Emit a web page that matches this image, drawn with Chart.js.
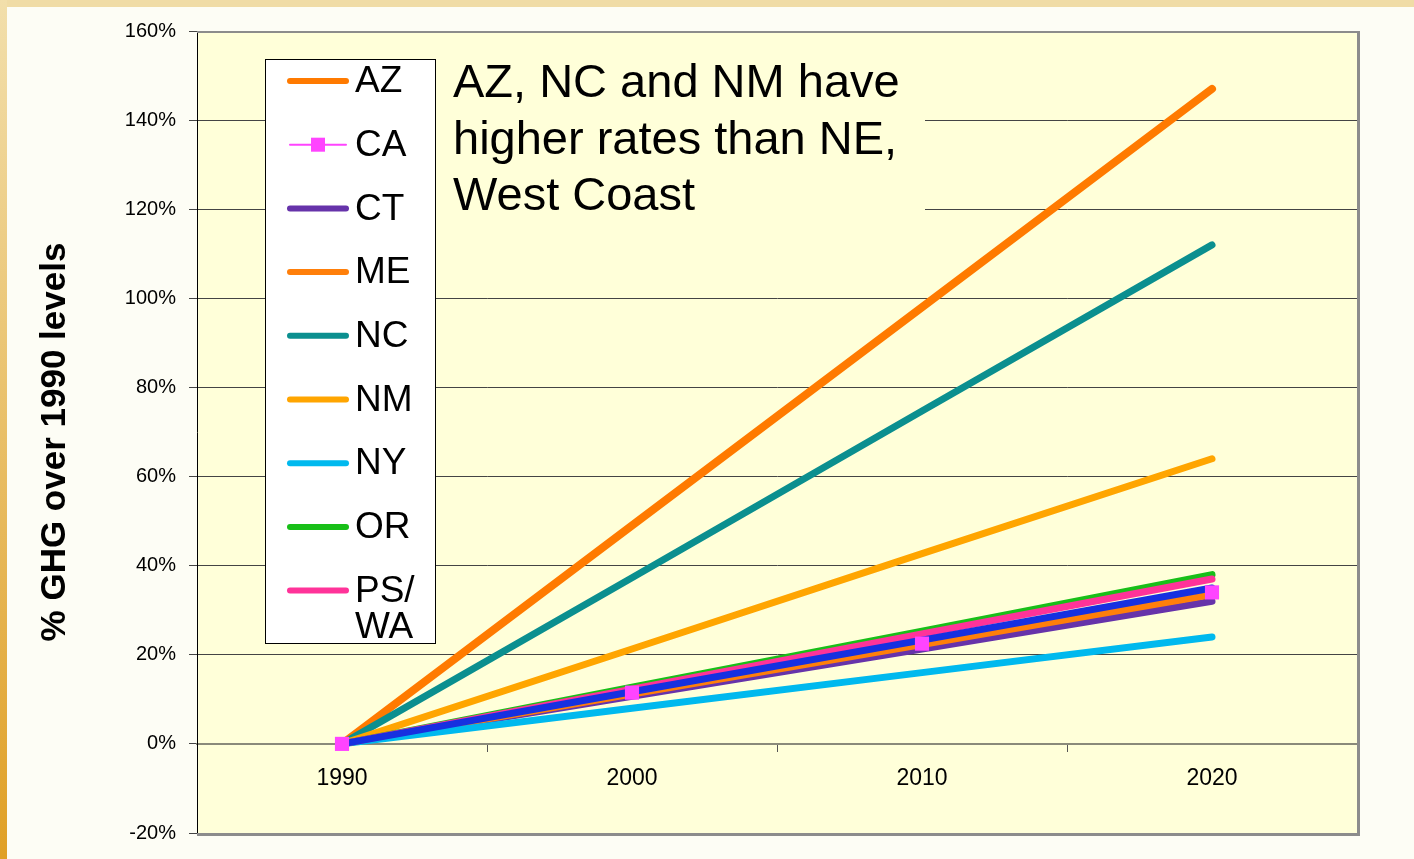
<!DOCTYPE html>
<html>
<head>
<meta charset="utf-8">
<script src="https://cdn.jsdelivr.net/npm/chart.js@4.4.1/dist/chart.umd.min.js"></script>
<style>
  html, body { margin: 0; padding: 0; background: #fdfdf5; }
  canvas { display: block; }
</style>
</head>
<body>
<canvas id="ghgChart" width="1414" height="859"></canvas>
<script>
// data (% GHG over 1990 levels)
const years = ['1990', '2000', '2010', '2020'];
const azValues = [0, 49, 98, 147];
const caValues = [0, 11.5, 22.5, 34];
const ctValues = [0, 10.7, 21.3, 32];
const meValues = [0, 11.2, 22.3, 33.5];
const ncValues = [0, 37.3, 74.7, 112];
const nmValues = [0, 21.3, 42.7, 64];
const nyValues = [0, 8, 16, 24];
const orValues = [0, 12.7, 25.3, 38];
const waValues = [0, 12.3, 24.7, 37];
const otherValues = [0, 11.7, 23.3, 35];   // blue series, its legend entry is cut off
const yTicks = [-20, 0, 20, 40, 60, 80, 100, 120, 140, 160];

const plotBg = '#ffffd9';
const yTitle = '% GHG over 1990 levels';
const noteLines = ['AZ, NC and NM have', 'higher rates than NE,', 'West Coast'];
const fontFamily = '"Liberation Sans", Arial, sans-serif';

function line(label, data, color, i) {
    return {
        label: label,
        data: data,
        borderColor: color,
        backgroundColor: color,
        borderWidth: 7,
        borderCapStyle: 'round',
        borderJoinStyle: 'round',
        pointRadius: 0,
        tension: 0,
        order: 100 - i
    };
}

const datasets = [
    Object.assign(line('AZ', azValues, '#ff7a00', 0), { borderWidth: 8 }),
    Object.assign(line('CA', caValues, '#ff44ff', 1), { borderWidth: 1.5 }),
    line('CT', ctValues, '#6633aa', 2),
    line('ME', meValues, '#ff7f0a', 3),
    line('NC', ncValues, '#0b8f8f', 4),
    line('NM', nmValues, '#ffa500', 5),
    line('NY', nyValues, '#00b9ee', 6),
    line('OR', orValues, '#18bf18', 7),
    line('PS/WA', waValues, '#ff3399', 8),
    line('Other', otherValues, '#1630e0', 9),
    // CA markers sit on top of everything
    {
        label: 'CA markers',
        data: caValues,
        showLine: false,
        pointStyle: 'rect',
        pointRadius: 10,
        pointBackgroundColor: '#ff44ff',
        pointBorderColor: '#ff44ff',
        borderWidth: 0,
        order: 0
    }
];

const legendEntries = ['AZ', 'CA', 'CT', 'ME', 'NC', 'NM', 'NY', 'OR', 'PS/WA'];

const decor = {
    id: 'decor',
    beforeDraw(chart) {
        const c = chart.ctx;
        const a = chart.chartArea;
        c.save();
        c.fillStyle = '#fdfdf5';
        c.fillRect(0, 0, chart.width, chart.height);
        c.fillStyle = '#f0dca6';
        c.fillRect(0, 0, chart.width, 7);
        const g = c.createLinearGradient(0, 0, 0, chart.height);
        g.addColorStop(0, '#f2dfab');
        g.addColorStop(1, '#e0a026');
        c.fillStyle = g;
        c.fillRect(0, 0, 7, chart.height);
        c.fillStyle = plotBg;
        c.fillRect(a.left, a.top, a.right - a.left, a.bottom - a.top);
        // y axis title
        c.translate(55, 442);
        c.rotate(-Math.PI / 2);
        c.fillStyle = '#000';
        c.font = 'bold 35px ' + fontFamily;
        c.textAlign = 'center';
        c.textBaseline = 'middle';
        c.fillText(yTitle, 0, 0);
        c.restore();
    },
    beforeDatasetsDraw(chart) {
        const c = chart.ctx;
        c.save();
        c.fillStyle = plotBg;
        c.fillRect(436, 55, 489, 160);
        c.fillStyle = '#000';
        c.font = '47px ' + fontFamily;
        c.textBaseline = 'alphabetic';
        noteLines.forEach((t, i) => c.fillText(t, 453, 97 + i * 56.5));
        c.restore();
    },
    afterDatasetsDraw(chart) {
        const c = chart.ctx;
        const a = chart.chartArea;
        c.save();
        // legend box
        c.fillStyle = '#ffffff';
        c.fillRect(265, 59, 170, 584);
        c.strokeStyle = '#000';
        c.lineWidth = 1;
        c.strokeRect(265.5, 59.5, 170, 584);
        c.beginPath();
        c.rect(266, 60, 169, 583);
        c.clip();
        c.font = '37px ' + fontFamily;
        c.textBaseline = 'middle';
        legendEntries.forEach((name, i) => {
            const ds = chart.data.datasets.find(d => d.label === name);
            const y = 81 + i * 63.7;
            c.strokeStyle = ds.borderColor;
            c.lineCap = 'round';
            c.lineWidth = name === 'CA' ? 2 : 6;
            c.beginPath();
            c.moveTo(290, y);
            c.lineTo(346, y);
            c.stroke();
            if (name === 'CA') {
                c.fillStyle = ds.borderColor;
                c.fillRect(311, y - 7, 14, 14);
            }
            c.fillStyle = '#000';
            if (name === 'PS/WA') {
                c.fillText('PS/', 355, y + 1);
                c.fillText('WA', 355, y + 37);
            } else {
                c.fillText(name, 355, y + 1);
            }
        });
        c.restore();
        // plot frame
        c.save();
        c.strokeStyle = '#8c8c8c';
        c.lineWidth = 2;
        c.beginPath();
        c.moveTo(a.left, a.top + 1);
        c.lineTo(a.right + 2, a.top + 1);
        c.stroke();
        c.lineWidth = 3;
        c.beginPath();
        c.moveTo(a.right + 1.5, a.top);
        c.lineTo(a.right + 1.5, a.bottom + 3);
        c.moveTo(a.left, a.bottom + 1.5);
        c.lineTo(a.right + 3, a.bottom + 1.5);
        c.stroke();
        c.restore();
    }
};

new Chart(document.getElementById('ghgChart'), {
    type: 'line',
    data: {
        labels: years,
        datasets: datasets
    },
    options: {
        responsive: false,
        animation: false,
        layout: {
            padding: { left: 0, top: 31, right: 57, bottom: 26 }
        },
        plugins: {
            legend: { display: false },
            tooltip: { enabled: false }
        },
        scales: {
            x: {
                type: 'category',
                offset: true,
                position: { y: 0 },
                grid: {
                    offset: true,
                    drawOnChartArea: false,
                    tickLength: 7,
                    color: '#555'
                },
                border: { color: '#8a8a7a', width: 2 },
                ticks: {
                    color: '#000',
                    padding: 14,
                    font: { size: 23, family: fontFamily }
                }
            },
            y: {
                min: -20,
                max: 160,
                afterFit: function(scale) {
                    scale.width = 197;
                },
                afterBuildTicks: function(scale) {
                    scale.ticks = yTicks.map(v => ({ value: v }));
                },
                grid: {
                    color: ctx => (ctx.tick && ctx.tick.value === 0 ? '#8a8a7a' : '#444'),
                    tickColor: '#444',
                    tickLength: 8,
                    lineWidth: 1
                },
                border: { color: '#000', width: 1 },
                ticks: {
                    color: '#000',
                    padding: 13,
                    font: { size: 20, family: fontFamily },
                    callback: function(value) {
                        return value + '%';
                    }
                }
            }
        }
    },
    plugins: [decor]
});
</script>
</body>
</html>
